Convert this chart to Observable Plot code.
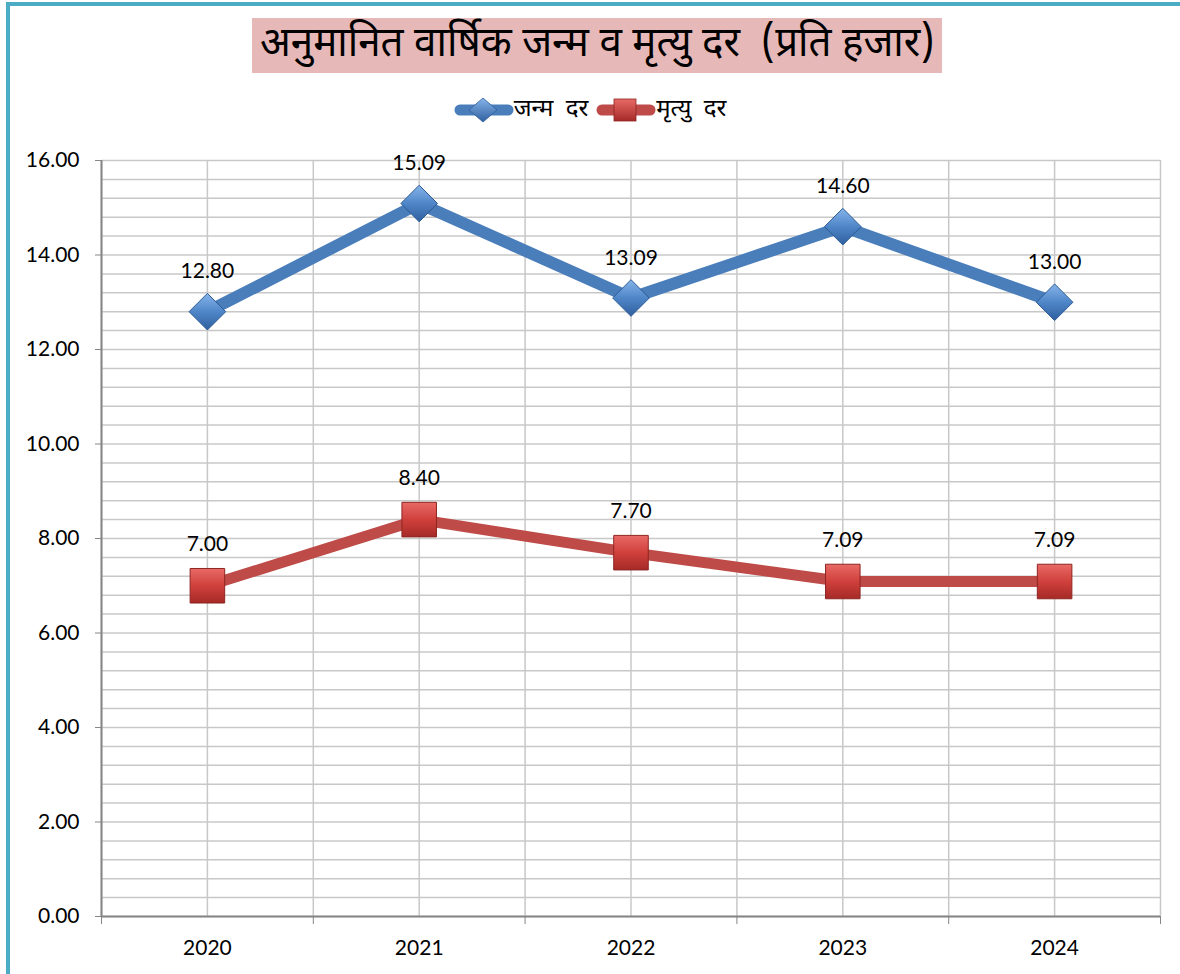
<!DOCTYPE html>
<html>
<head>
<meta charset="utf-8">
<script src="https://cdn.jsdelivr.net/npm/d3@7"></script>
<script src="https://cdn.jsdelivr.net/npm/@observablehq/plot@0.6"></script>
<style>
  body { margin: 0; background: #fff; }
  #wrap { position: relative; width: 1180px; height: 974px; overflow: hidden; background: #fff; }
  #frameL { position: absolute; left: 6px; top: 2px; width: 4px; height: 972px; background: #4BACC6; }
  #frameT { position: absolute; left: 6px; top: 2px; width: 1174px; height: 4px; background: #4BACC6; }
  #title { position: absolute; left: 252px; top: 18px; width: 690px; height: 55px; background: #E6B9B8;
           display: flex; align-items: center; justify-content: center; white-space: pre; overflow: hidden;
           font-family: "Noto Sans Devanagari", "Noto Sans", "Lohit Devanagari", sans-serif; font-size: 42px; color: #000; }
  #title span { display: inline-block; transform: scaleX(0.96); }
  #legend { position: absolute; top: 95px; left: 0; width: 1180px; height: 30px; display: flex;
            justify-content: center; align-items: center; gap: 8px; word-spacing: 6px;
            font-family: "Noto Sans Devanagari", "Noto Sans", sans-serif; font-size: 24px; color: #000; }
  .item { display: flex; align-items: center; }
  #chart { position: absolute; left: 0; top: 130px; }
</style>
</head>
<body>
<div id="wrap">
  <div id="frameL"></div>
  <div id="frameT"></div>
  <div id="title"><span></span></div>
  <div id="legend"></div>
  <div id="chart"></div>
</div>
<script>
// ---- data ----
const titleText = "अनुमानित वार्षिक जन्म व मृत्यु दर  (प्रति हजार)";
const seriesNames = ["जन्म दर", "मृत्यु दर"];
const years = [2020, 2021, 2022, 2023, 2024];
const birthRate = [12.80, 15.09, 13.09, 14.60, 13.00];
const deathRate = [7.00, 8.40, 7.70, 7.09, 7.09];
const yTicks = [0, 2, 4, 6, 8, 10, 12, 14, 16];
const yMinorStep = 0.4;

const blue = "#4A7EBB", red = "#BE4B48";

document.querySelector("#title span").textContent = titleText;

// legend
const legend = document.getElementById("legend");
const swatches = [
  {name: seriesNames[0], color: blue, shape: "diamond"},
  {name: seriesNames[1], color: red, shape: "square"}
];
for (const s of swatches) {
  const item = document.createElement("div");
  item.className = "item";
  const marker = s.shape === "diamond"
    ? `<path d="M29,3 L43,15 L29,27 L15,15 Z" fill="url(#lg-${s.shape})" stroke="#2F5F9E" stroke-width="0.8"/>`
    : `<rect x="18" y="4" width="22" height="22" fill="url(#lg-${s.shape})" stroke="#8E2522" stroke-width="0.8"/>`;
  const g0 = s.shape === "diamond" ? ["#86B4EA", "#2F5F9E"] : ["#E86A66", "#A52A27"];
  item.innerHTML = `<svg width="60" height="30" viewBox="0 0 60 30">
    <defs><linearGradient id="lg-${s.shape}" x1="0" y1="0" x2="0" y2="1">
      <stop offset="0" stop-color="${g0[0]}"/><stop offset="1" stop-color="${g0[1]}"/></linearGradient></defs>
    <line x1="6" y1="15" x2="54" y2="15" stroke="${s.color}" stroke-width="11" stroke-linecap="round"/>
    ${marker}</svg><span>${s.name}</span>`;
  legend.appendChild(item);
}

// tables
const birth = years.map((year, i) => ({year, value: birthRate[i]}));
const death = years.map((year, i) => ({year, value: deathRate[i]}));
const minorY = d3.range(0, 16 + 1e-9, yMinorStep);
const centers = years;
const bounds = [years[0] - 0.5, ...years.map(y => y + 0.5)];
const gridX = [...centers, ...bounds];

const grid = "#C8C8C8", axisCol = "#868686";

const chart = Plot.plot({
  width: 1180,
  height: 844,
  marginLeft: 101,
  marginRight: 20,
  marginTop: 30,
  marginBottom: 58,
  x: {type: "linear", domain: [2019.5, 2024.5]},
  y: {domain: [0, 16]},
  style: {fontFamily: "Lato, 'Open Sans', sans-serif", fontSize: "21px", background: "transparent", color: "#000"},
  marks: [
    Plot.ruleY(minorY, {stroke: grid, strokeWidth: 1.5}),
    Plot.ruleX(gridX, {stroke: grid, strokeWidth: 1.5}),
    Plot.ruleX([2019.5], {stroke: axisCol, strokeWidth: 2}),
    Plot.ruleY([0], {stroke: axisCol, strokeWidth: 2}),
    Plot.axisY({ticks: yTicks, tickFormat: d => d.toFixed(2), tickSize: 6, tickPadding: 16,
                stroke: axisCol, fill: "#000", fontSize: 21, fontWeight: 400, label: null}),
    Plot.axisX({ticks: bounds, tickFormat: () => "", tickSize: 8, stroke: axisCol, label: null}),
    Plot.axisX({ticks: centers, tickFormat: d => String(d), tickSize: 0, tickPadding: 24,
                fill: "#000", fontSize: 21, label: null}),
    Plot.line(birth, {x: "year", y: "value", stroke: blue, strokeWidth: 12, strokeLinejoin: "round"}),
    Plot.line(death, {x: "year", y: "value", stroke: red, strokeWidth: 11, strokeLinejoin: "round"}),
    Plot.dot(birth, {x: "year", y: "value", symbol: "diamond2", r: 16.5, fill: "url(#gBlue)", stroke: "#2B5A94", strokeWidth: 1}),
    Plot.dot(death, {x: "year", y: "value", symbol: "square2", r: 22, fill: "url(#gRed)", stroke: "#8E2522", strokeWidth: 1}),
    Plot.text(birth, {x: "year", y: "value", text: d => d.value.toFixed(2), dy: -40, fontSize: 21, fill: "#000"}),
    Plot.text(death, {x: "year", y: "value", text: d => d.value.toFixed(2), dy: -41, fontSize: 21, fill: "#000"})
  ]
});

const defs = d3.select(chart).insert("defs", ":first-child");
const gb = defs.append("linearGradient").attr("id", "gBlue").attr("x1", 0).attr("y1", 0).attr("x2", 0).attr("y2", 1);
gb.append("stop").attr("offset", 0).attr("stop-color", "#86B4EA");
gb.append("stop").attr("offset", 0.5).attr("stop-color", "#4F86C8");
gb.append("stop").attr("offset", 1).attr("stop-color", "#2F5F9E");
const gr = defs.append("linearGradient").attr("id", "gRed").attr("x1", 0).attr("y1", 0).attr("x2", 0).attr("y2", 1);
gr.append("stop").attr("offset", 0).attr("stop-color", "#E86A66");
gr.append("stop").attr("offset", 0.5).attr("stop-color", "#D0403C");
gr.append("stop").attr("offset", 1).attr("stop-color", "#A52A27");

document.getElementById("chart").appendChild(chart);
</script>
</body>
</html>
